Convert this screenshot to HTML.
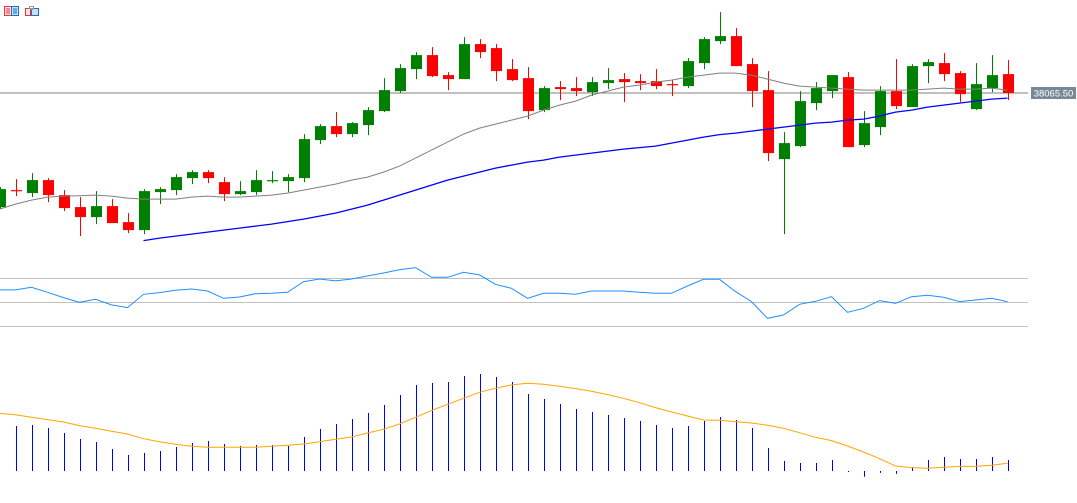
<!DOCTYPE html>
<html><head><meta charset="utf-8"><style>
html,body{margin:0;padding:0;background:#fff;width:1077px;height:503px;overflow:hidden;font-family:"Liberation Sans",sans-serif}
svg{position:absolute;left:0;top:0}
</style></head><body>
<svg id="chart" width="1077" height="503" viewBox="0 0 1077 503" xmlns="http://www.w3.org/2000/svg">
  <g>
    <rect x="4.5" y="6.5" width="14" height="9" fill="#fde" stroke="#e33"/>
    <rect x="11.5" y="6.5" width="7" height="9" fill="#cdf" stroke="#17b"/>
    <line x1="6" y1="9" x2="10" y2="9" stroke="#e33"/><line x1="6" y1="11" x2="10" y2="11" stroke="#e33"/><line x1="6" y1="13" x2="10" y2="13" stroke="#e33"/>
    <line x1="13" y1="9" x2="17" y2="9" stroke="#17b"/><line x1="13" y1="11" x2="17" y2="11" stroke="#17b"/><line x1="13" y1="13" x2="17" y2="13" stroke="#17b"/>
  </g>
  <g>
    <path d="M25.5 8.5 h5 v7 h-5 z" fill="#fde" stroke="#e33"/>
    <path d="M32.5 8.5 h6 v7 h-7 v-5 z" fill="#cdf" stroke="#17b"/>
    <rect x="29.5" y="6.5" width="4" height="2" fill="#fff" stroke="#999"/>
  </g>
  <g id="price"></g>
  <g id="rsi"></g>
  <g id="macd"></g>
</svg>
<script>
const opens=[37495,37580,37565,37630,37555,37495,37445,37500,37420,37380,37570,37580,37640,37670,37620,37560,37570,37628,37625,37640,37830,37900,37860,37905,37975,38075,38185,38255,38155,38135,38310,38290,38185,38140,37980,38095,38090,38070,38115,38135,38125,38125,38110,38100,38215,38325,38350,38210,38080,37735,37800,38015,38075,38145,37805,37895,38075,37995,38200,38215,38165,37985,38090,38160];
const highs=[37595,37635,37665,37640,37580,37545,37575,37535,37465,37585,37595,37660,37680,37680,37645,37625,37680,37675,37660,37860,37910,37970,37920,37995,38140,38210,38270,38295,38170,38345,38335,38310,38235,38195,38100,38125,38145,38145,38190,38165,38160,38185,38130,38240,38345,38470,38390,38240,38175,37870,38075,38120,38155,38170,37975,38100,38235,38210,38235,38265,38175,38215,38255,38230];
const lows=[37485,37550,37545,37520,37475,37350,37410,37415,37365,37360,37510,37555,37610,37615,37525,37555,37555,37615,37570,37620,37810,37845,37845,37855,37970,38065,38135,38145,38080,38135,38240,38125,38125,37935,37970,38030,38050,38050,38085,38020,38080,38085,38050,38090,38185,38310,38200,37995,37725,37360,37795,37980,38040,37795,37795,37855,37985,37995,38115,38125,38020,37980,38070,38030];
const closes=[37585,37578,37630,37555,37490,37445,37500,37415,37380,37575,37585,37645,37670,37640,37560,37575,37630,37630,37645,37835,37900,37860,37915,37980,38080,38190,38255,38150,38135,38310,38270,38175,38130,37975,38090,38085,38075,38120,38130,38120,38115,38100,38108,38225,38335,38350,38200,38075,37765,37815,38025,38090,38155,37795,37915,38075,38000,38200,38220,38160,38060,38110,38155,38065.5];
const maFast=[37485,37510,37530,37545,37550,37552,37555,37550,37540,37535,37535,37535,37545,37550,37545,37545,37550,37555,37565,37580,37595,37610,37630,37645,37670,37700,37740,37780,37820,37860,37890,37910,37930,37950,37980,38005,38025,38055,38075,38095,38105,38120,38130,38145,38155,38165,38165,38155,38135,38115,38100,38095,38090,38085,38080,38080,38080,38080,38085,38090,38085,38085,38090,38080];
const maSlow=[null,null,null,null,null,null,null,null,null,37327.5,37340,37350,37360,37370,37380,37390,37400,37410,37422.5,37435,37450,37465,37485,37505,37530,37555,37580,37605,37630,37650,37670,37690,37705,37720,37730,37745,37755,37765,37775,37785,37792.5,37800,37815,37830,37845,37857.5,37865,37875,37885,37895,37905,37915,37920,37930,37935,37950,37970,37980,37995,38005,38015,38025,38035,38040];
const rsiValues=[60.3,60.3,62.5,58.3,53.9,50,52.5,47.8,45.6,56.7,58.1,60,61.1,59.4,53.3,54.4,57.2,57.5,58.3,67.2,69.4,67.8,69.4,71.9,74.4,77.2,78.9,70.8,70.8,75,72.8,65,61.7,53.3,57.5,57.5,56.7,59.4,59.4,59.4,58.3,57.5,57.5,63.6,69.2,69.2,58.9,50.6,36.7,39.4,48.3,50.8,54.7,41.7,45,51.4,49.2,54.7,55.8,54.2,50.6,51.9,53.3,50.6];
const rsiLevels=[70,50,30];
const macdHist=[null,46.5,47.5,44.4,39.3,33.1,30,22.7,16.5,18.6,20.7,24.8,28.9,31,27.9,25.8,26.9,26.9,25.8,35.1,43.4,48.6,53.7,59.9,68.2,78.5,88.9,90.9,92,98.2,100.2,97.1,92,79.6,74.4,69.2,64.1,61,57.9,54.8,51.7,47.5,44.4,46.5,51.7,55.8,52.7,44.4,23.8,10.3,8.3,8.3,11.4,-1,-6,-2,-3,4.1,11.4,14.5,12.4,12.4,14.5,11.4];
const macdSignal=[59.6,58.2,55.5,53.1,50.6,46.9,44.1,41,38.2,33.4,30.3,27.6,25.5,24.5,24.5,24.5,24.5,25.5,26.5,27.9,30.3,32.7,35.1,39.3,43.1,48.6,55.5,62.4,68.9,75.1,81.3,85.4,88.9,90.6,89.6,87.5,85.1,82.3,78.9,75.1,70.6,65.5,61,56.8,52.7,52.4,51,49.6,47.2,44.1,39.6,34.8,31.4,25.8,19.6,12.8,5.2,3.5,2.8,3.8,4.8,4.8,5.9,8];
const lastPriceLabel="38065.50";

const NS="http://www.w3.org/2000/svg";
const xOf=i=>-0.5+16*i;
const yPrice=p=>93-(p-38065.5)/5;
const yRsi=r=>302.3-(r-50)*1.2;
const yMacd=v=>471-v*0.968;
function mk(tag,attrs,parent){const e=document.createElementNS(NS,tag);for(const k in attrs)e.setAttribute(k,attrs[k]);parent.appendChild(e);return e;}
const gP=document.getElementById('price'),gR=document.getElementById('rsi'),gM=document.getElementById('macd');

const pl=mk('line',{x1:0,x2:1028,y1:yPrice(closes[closes.length-1]),y2:yPrice(closes[closes.length-1]),stroke:'#808080','stroke-width':1},gP);



closes.forEach((c,i)=>{
  const o=opens[i],x=Math.round(xOf(i))+0.5,up=c>=o,col=up?'#008000':'#ff0000';
  const g=mk('g',{},gP);
  
  
  mk('line',{x1:x,x2:x,y1:yPrice(highs[i]),y2:yPrice(lows[i]),stroke:col,'stroke-width':1},g);
  const top=yPrice(Math.max(o,c)),bot=yPrice(Math.min(o,c));
  mk('rect',{x:x-5.5,y:top,width:11,height:Math.max(1.2,bot-top),fill:col},g);
});

function poly(arr,fx,fy,col,parent,name,w){
  let d='';arr.forEach((v,i)=>{if(v==null)return;d+=(d?'L':'M')+fx(i).toFixed(1)+' '+fy(v).toFixed(1);});
  const p=mk('path',{d:d,fill:'none',stroke:col,'stroke-width':w||1},parent);
  
  
  return p;
}
poly(maFast,xOf,yPrice,'#808080',gP,'moving-average-fast');
poly(maSlow,xOf,yPrice,'#0000ff',gP,'moving-average-slow',1.3);

const lb=mk('rect',{x:1031,y:87,width:45,height:12,fill:'#778899'},gP);


const lt=mk('text',{x:1053.5,y:96.5,'font-size':9.5,fill:'#fff','text-anchor':'middle','font-family':'Liberation Sans, sans-serif'},gP);
lt.textContent=lastPriceLabel;



rsiLevels.forEach(l=>{
  const ln=mk('line',{x1:0,x2:1028,y1:Math.round(yRsi(l))+0.5,y2:Math.round(yRsi(l))+0.5,stroke:'#c0c0c0','stroke-width':1},gR);
  
  
});
poly(rsiValues,xOf,yRsi,'#1e90ff',gR,'rsi-line');

macdHist.forEach((v,i)=>{
  if(v==null)return;
  const x=Math.round(xOf(i))+0.5;
  const b=mk('line',{x1:x,x2:x,y1:yMacd(0),y2:yMacd(v),stroke:'#0000ff','stroke-width':1},gM);
  
  
});
poly(macdSignal,xOf,yMacd,'#ffa500',gM,'macd-signal-line');
</script>
</body></html>
